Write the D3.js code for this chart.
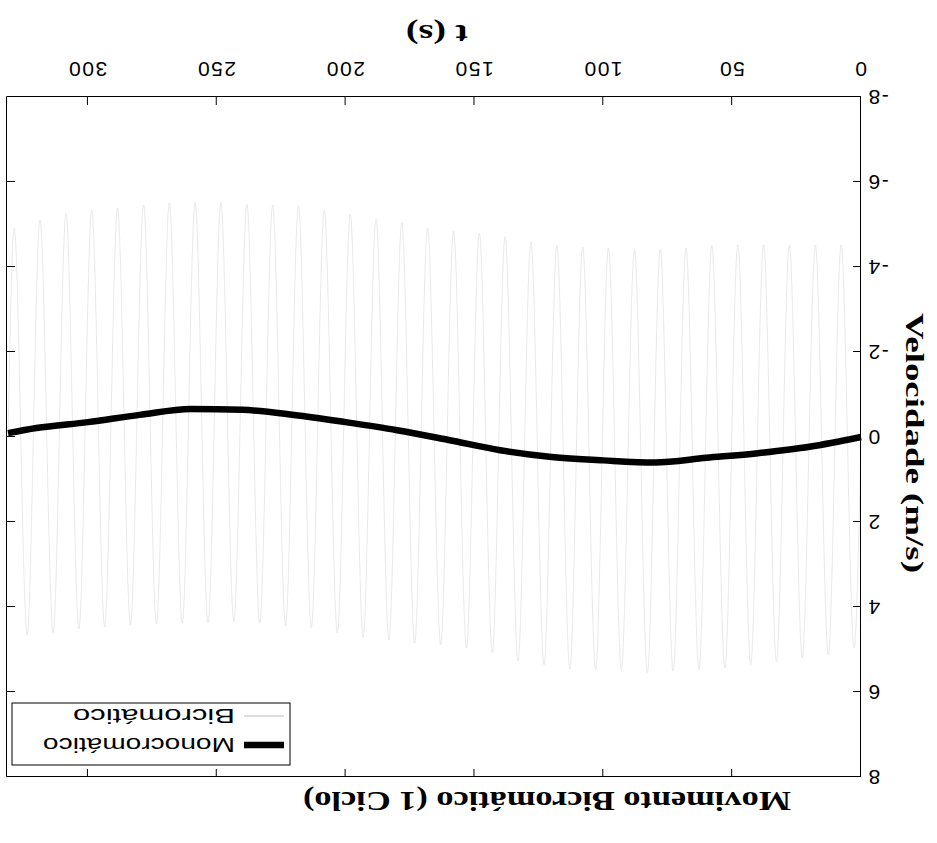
<!DOCTYPE html>
<html>
<head>
<meta charset="utf-8">
<script src="https://cdn.jsdelivr.net/npm/d3@7"></script>
<style>
body { margin: 0; background: #fff; }
svg { display: block; }
</style>
</head>
<body>
<div id="chart"></div>
<script>
const xTicks = [0, 50, 100, 150, 200, 250, 300];
const yTicks = [-8, -6, -4, -2, 0, 2, 4, 6, 8];

// monochromatic velocity (thick line)
const monoTime = [0, 20, 40, 60, 80, 100, 120, 140, 160, 180, 200, 220, 240, 260, 280, 300, 320, 331];
const monoVel  = [0, 0.23, 0.38, 0.49, 0.60, 0.55, 0.47, 0.31, 0.07, -0.16, -0.35, -0.52, -0.64, -0.66, -0.52, -0.35, -0.21, -0.09];

// bichromatic velocity: crests and troughs of the fast oscillation
const biTime = [0, 2.7, 7.7, 12.7, 17.7, 22.8, 27.8, 32.8, 37.8, 42.8, 47.8, 52.8, 57.9, 62.9, 67.9,
  72.9, 77.9, 82.9, 87.9, 93.0, 98.0, 103.0, 108.0, 113.0, 118.0, 123.0, 128.1, 133.1, 138.1, 143.1,
  148.1, 153.1, 158.1, 163.1, 168.2, 173.2, 178.2, 183.2, 188.2, 193.2, 198.2, 203.2, 208.3, 213.3,
  218.3, 223.3, 228.3, 233.3, 238.3, 243.4, 248.4, 253.4, 258.4, 263.4, 268.4, 273.4, 278.4, 283.5,
  288.5, 293.5, 298.5, 303.5, 308.5, 313.5, 318.6, 323.6, 328.6, 331];
const biVel = [0, 4.96, -4.52, 5.13, -4.52, 5.20, -4.52, 5.29, -4.52, 5.36, -4.52, 5.44, -4.50, 5.48, -4.45,
  5.51, -4.42, 5.55, -4.40, 5.48, -4.45, 5.48, -4.47, 5.46, -4.50, 5.36, -4.60, 5.27, -4.72, 5.08,
  -4.80, 4.96, -4.85, 4.89, -4.92, 4.85, -5.04, 4.78, -5.13, 4.71, -5.25, 4.61, -5.34, 4.49,
  -5.44, 4.45, -5.46, 4.38, -5.48, 4.35, -5.53, 4.38, -5.53, 4.38, -5.51, 4.40, -5.46, 4.42,
  -5.39, 4.47, -5.34, 4.52, -5.27, 4.61, -5.11, 4.66, -4.92, 0];

const legendNames = ['Monocromático', 'Bicromático'];

const width = 937, height = 843;
const plot = { left: 76, right: 930, top: 66, bottom: 746 };
const grey = '#e3e3e3';

let svg = d3.select('#chart').append('svg')
  .attr('width', width)
  .attr('height', height);

// the scan is upside down, so the whole figure is drawn turned by 180 degrees
let fig = svg.append('g')
  .attr('transform', `rotate(180, ${width / 2}, ${height / 2})`);

let x = d3.scaleLinear().domain([0, 331.4]).range([plot.left, plot.right]);
let y = d3.scaleLinear().domain([-8, 8]).range([plot.bottom, plot.top]);

// curves
let biLine = d3.line()
  .x((d, i) => x(biTime[i]))
  .y(d => y(d))
  .curve(d3.curveMonotoneX);
fig.append('path')
  .attr('d', biLine(biVel))
  .attr('fill', 'none')
  .attr('stroke', grey)
  .attr('stroke-width', 0.8);

let monoLine = d3.line()
  .x((d, i) => x(monoTime[i]))
  .y(d => y(d))
  .curve(d3.curveMonotoneX);
fig.append('path')
  .attr('d', monoLine(monoVel))
  .attr('fill', 'none')
  .attr('stroke', '#000')
  .attr('stroke-width', 6.5);

// axes, ticks pointing inward like the original (plain hyphen for minus)
let tickFont = '"Liberation Sans", Arial, sans-serif';
let fmt = d => String(d);
fig.append('g')
  .attr('transform', `translate(0,${plot.bottom})`)
  .call(d3.axisBottom(x).tickValues(xTicks).tickFormat(fmt).tickSizeInner(-8).tickSizeOuter(0).tickPadding(20));
fig.append('g')
  .attr('transform', `translate(0,${plot.top})`)
  .call(d3.axisTop(x).tickValues(xTicks).tickSizeInner(-8).tickSizeOuter(0).tickFormat(''));
fig.append('g')
  .attr('transform', `translate(${plot.left},0)`)
  .call(d3.axisLeft(y).tickValues(yTicks).tickFormat(fmt).tickSizeInner(-8).tickSizeOuter(0).tickPadding(6));
fig.append('g')
  .attr('transform', `translate(${plot.right},0)`)
  .call(d3.axisRight(y).tickValues(yTicks).tickSizeInner(-8).tickSizeOuter(0).tickFormat(''));

fig.selectAll('.tick text')
  .style('font-family', tickFont)
  .style('font-size', '21px')
  .style('letter-spacing', '1.5px')
  .attr('fill', '#000');
fig.selectAll('.domain, .tick line').attr('stroke', '#000');

// labels (the scan stretches them, hence textLength)
let serif = '"Liberation Serif", "Times New Roman", serif';
fig.append('text')
  .attr('x', 390).attr('y', 51)
  .attr('text-anchor', 'middle')
  .attr('textLength', 488).attr('lengthAdjust', 'spacingAndGlyphs')
  .style('font-family', serif).style('font-weight', 'bold').style('font-size', '27px')
  .text('Movimento Bicromático (1 Ciclo)');
fig.append('text')
  .attr('x', 500).attr('y', 818)
  .attr('text-anchor', 'middle')
  .attr('textLength', 62).attr('lengthAdjust', 'spacingAndGlyphs')
  .style('font-family', serif).style('font-weight', 'bold').style('font-size', '27px')
  .text('t (s)');
fig.append('text')
  .attr('transform', 'translate(31,400) rotate(-90)')
  .attr('text-anchor', 'middle')
  .attr('textLength', 260).attr('lengthAdjust', 'spacingAndGlyphs')
  .style('font-family', serif).style('font-weight', 'bold').style('font-size', '26px')
  .text('Velocidade (m/s)');

// legend (top right corner of the plot)
let legend = fig.append('g').attr('transform', 'translate(647,78)');
legend.append('rect')
  .attr('width', 278).attr('height', 62)
  .attr('fill', '#fff').attr('stroke', '#000').attr('stroke-width', 1);
let legendStyle = [{ stroke: '#000', w: 6.5, len: 192 }, { stroke: '#bdbdbd', w: 1, len: 162 }];
legend.selectAll('g.item')
  .data(legendNames)
  .enter().append('g')
  .attr('class', 'item')
  .attr('transform', (d, i) => `translate(0,${20 + i * 29})`)
  .each(function (d, i) {
    let g = d3.select(this);
    g.append('line')
      .attr('x1', 6).attr('x2', 46)
      .attr('stroke', legendStyle[i].stroke)
      .attr('stroke-width', legendStyle[i].w);
    g.append('text')
      .attr('x', 55).attr('dy', '0.35em')
      .attr('textLength', legendStyle[i].len).attr('lengthAdjust', 'spacingAndGlyphs')
      .style('font-family', tickFont).style('font-size', '20px')
      .text(d);
  });
</script>
</body>
</html>
